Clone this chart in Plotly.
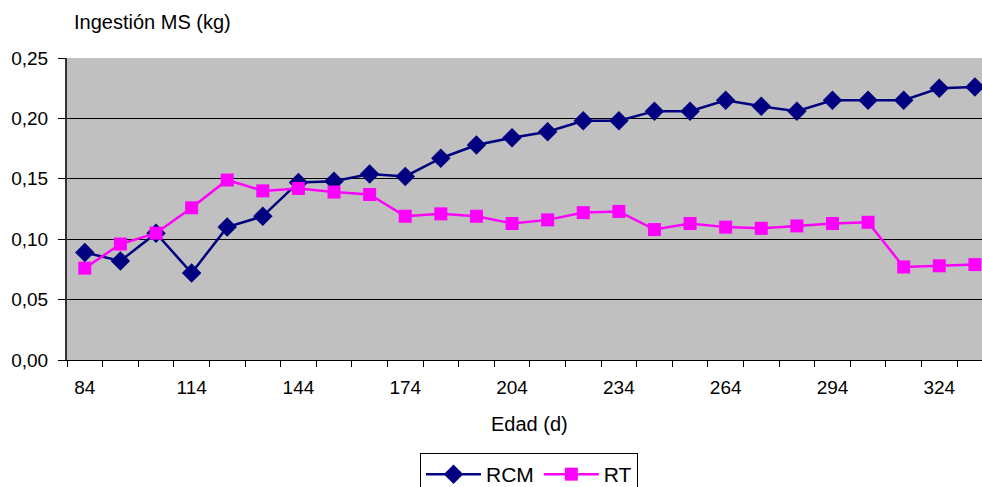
import plotly.graph_objects as go

edad = [84, 94, 104, 114, 124, 134, 144, 154, 164, 174, 184, 194, 204, 214,
        224, 234, 244, 254, 264, 274, 284, 294, 304, 314, 324, 334]
rcm = [0.089, 0.082, 0.105, 0.072, 0.110, 0.119, 0.147, 0.148, 0.154, 0.152,
       0.167, 0.178, 0.184, 0.189, 0.198, 0.198, 0.206, 0.206, 0.215, 0.210,
       0.206, 0.215, 0.215, 0.215, 0.225, 0.226]
rt = [0.076, 0.096, 0.105, 0.126, 0.149, 0.140, 0.142, 0.139, 0.137, 0.119,
      0.121, 0.119, 0.113, 0.116, 0.122, 0.123, 0.108, 0.113, 0.110, 0.109,
      0.111, 0.113, 0.114, 0.077, 0.078, 0.079]
x_tick_labels = [84, 114, 144, 174, 204, 234, 264, 294, 324]
y_ticks = [0.00, 0.05, 0.10, 0.15, 0.20, 0.25]

FONT = "Liberation Sans, Arial, sans-serif"

fig = go.Figure()
fig.add_trace(go.Scatter(
    x=edad, y=rcm, name="RCM", mode="lines+markers",
    line=dict(color="#000080", width=2.5),
    marker=dict(symbol="diamond", size=15, color="#000080"),
))
fig.add_trace(go.Scatter(
    x=edad, y=rt, name="RT", mode="lines+markers",
    line=dict(color="#FF00FF", width=2.5),
    marker=dict(symbol="square", size=13, color="#FF00FF"),
))

boundaries = [e - 5 for e in edad] + [edad[-1] + 5]

fig.update_layout(
    width=982, height=487,
    margin=dict(l=67, r=0, t=58, b=127, autoexpand=False),
    paper_bgcolor="white",
    plot_bgcolor="#C0C0C0",
    separators=",.",
    font=dict(family=FONT, size=19, color="black"),
    showlegend=True,
    legend=dict(
        orientation="h", xref="container", yref="container",
        x=529 / 982, xanchor="center", y=1 - 453 / 487, yanchor="top",
        bordercolor="black", borderwidth=1, bgcolor="white",
        font=dict(size=21), itemwidth=55, tracegroupgap=0,
    ),
    xaxis=dict(
        range=[79, 336], showgrid=False, zeroline=False,
        tickmode="array", tickvals=x_tick_labels,
        ticktext=[str(v) for v in x_tick_labels],
        ticks="", tickfont=dict(size=19),
        showline=True, linecolor="black", linewidth=1,
        minor=dict(tickmode="array", tickvals=boundaries, ticks="outside",
                   ticklen=6, tickcolor="black", showgrid=False),
        ticklabelstandoff=10,
    ),
    yaxis=dict(
        range=[0, 0.25], tickmode="array", tickvals=y_ticks,
        tickformat=".2f", tickfont=dict(size=19),
        ticks="outside", ticklen=7, tickcolor="black",
        showgrid=True, gridcolor="black", gridwidth=1,
        zeroline=False, showline=True, linecolor="#333333", linewidth=2,
        ticklabelstandoff=6,
    ),
    annotations=[
        dict(text="Ingestión MS (kg)", xref="paper", yref="paper",
             x=0.005, y=1.119, xanchor="left", yanchor="middle",
             showarrow=False, font=dict(size=20)),
        dict(text="Edad (d)", xref="paper", yref="paper",
             x=0.505, y=-0.212, xanchor="center", yanchor="middle",
             showarrow=False, font=dict(size=20)),
    ],
)

fig.write_html("out.html")
